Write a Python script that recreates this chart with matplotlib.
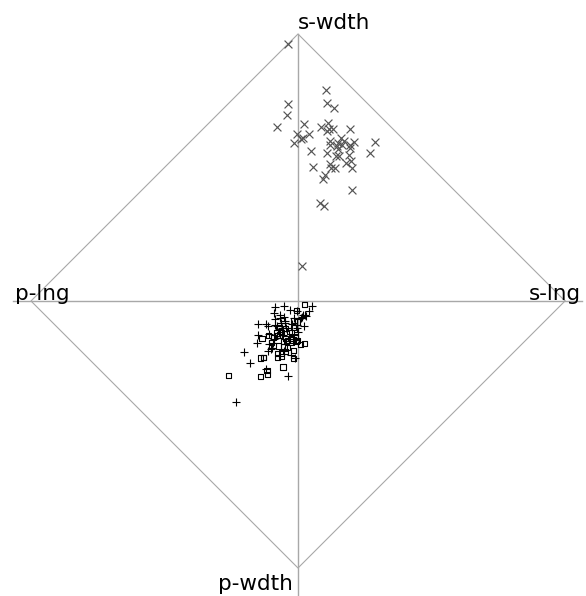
import numpy as np
import matplotlib.pyplot as plt

# iris measurements: sepal length, sepal width, petal length, petal width
setosa = [
    [5.1, 3.5, 1.4, 0.2], [4.9, 3.0, 1.4, 0.2], [4.7, 3.2, 1.3, 0.2], [4.6, 3.1, 1.5, 0.2],
    [5.0, 3.6, 1.4, 0.2], [5.4, 3.9, 1.7, 0.4], [4.6, 3.4, 1.4, 0.3], [5.0, 3.4, 1.5, 0.2],
    [4.4, 2.9, 1.4, 0.2], [4.9, 3.1, 1.5, 0.1], [5.4, 3.7, 1.5, 0.2], [4.8, 3.4, 1.6, 0.2],
    [4.8, 3.0, 1.4, 0.1], [4.3, 3.0, 1.1, 0.1], [5.8, 4.0, 1.2, 0.2], [5.7, 4.4, 1.5, 0.4],
    [5.4, 3.9, 1.3, 0.4], [5.1, 3.5, 1.4, 0.3], [5.7, 3.8, 1.7, 0.3], [5.1, 3.8, 1.5, 0.3],
    [5.4, 3.4, 1.7, 0.2], [5.1, 3.7, 1.5, 0.4], [4.6, 3.6, 1.0, 0.2], [5.1, 3.3, 1.7, 0.5],
    [4.8, 3.4, 1.9, 0.2], [5.0, 3.0, 1.6, 0.2], [5.0, 3.4, 1.6, 0.4], [5.2, 3.5, 1.5, 0.2],
    [5.2, 3.4, 1.4, 0.2], [4.7, 3.2, 1.6, 0.2], [4.8, 3.1, 1.6, 0.2], [5.4, 3.4, 1.5, 0.4],
    [5.2, 4.1, 1.5, 0.1], [5.5, 4.2, 1.4, 0.2], [4.9, 3.1, 1.5, 0.2], [5.0, 3.2, 1.2, 0.2],
    [5.5, 3.5, 1.3, 0.2], [4.9, 3.6, 1.4, 0.1], [4.4, 3.0, 1.3, 0.2], [5.1, 3.4, 1.5, 0.2],
    [5.0, 3.5, 1.3, 0.3], [4.5, 2.3, 1.3, 0.3], [4.4, 3.2, 1.3, 0.2], [5.0, 3.5, 1.6, 0.6],
    [5.1, 3.8, 1.9, 0.4], [4.8, 3.0, 1.4, 0.3], [5.1, 3.8, 1.6, 0.2], [4.6, 3.2, 1.4, 0.2],
    [5.3, 3.7, 1.5, 0.2], [5.0, 3.3, 1.4, 0.2],
]
versicolor = [
    [7.0, 3.2, 4.7, 1.4], [6.4, 3.2, 4.5, 1.5], [6.9, 3.1, 4.9, 1.5], [5.5, 2.3, 4.0, 1.3],
    [6.5, 2.8, 4.6, 1.5], [5.7, 2.8, 4.5, 1.3], [6.3, 3.3, 4.7, 1.6], [4.9, 2.4, 3.3, 1.0],
    [6.6, 2.9, 4.6, 1.3], [5.2, 2.7, 3.9, 1.4], [5.0, 2.0, 3.5, 1.0], [5.9, 3.0, 4.2, 1.5],
    [6.0, 2.2, 4.0, 1.0], [6.1, 2.9, 4.7, 1.4], [5.6, 2.9, 3.6, 1.3], [6.7, 3.1, 4.4, 1.4],
    [5.6, 3.0, 4.5, 1.5], [5.8, 2.7, 4.1, 1.0], [6.2, 2.2, 4.5, 1.5], [5.6, 2.5, 3.9, 1.1],
    [5.9, 3.2, 4.8, 1.8], [6.1, 2.8, 4.0, 1.3], [6.3, 2.5, 4.9, 1.5], [6.1, 2.8, 4.7, 1.2],
    [6.4, 2.9, 4.3, 1.3], [6.6, 3.0, 4.4, 1.4], [6.8, 2.8, 4.8, 1.4], [6.7, 3.0, 5.0, 1.7],
    [6.0, 2.9, 4.5, 1.5], [5.7, 2.6, 3.5, 1.0], [5.5, 2.4, 3.8, 1.1], [5.5, 2.4, 3.7, 1.0],
    [5.8, 2.7, 3.9, 1.2], [6.0, 2.7, 5.1, 1.6], [5.4, 3.0, 4.5, 1.5], [6.0, 3.4, 4.5, 1.6],
    [6.7, 3.1, 4.7, 1.5], [6.3, 2.3, 4.4, 1.3], [5.6, 3.0, 4.1, 1.3], [5.5, 2.5, 4.0, 1.3],
    [5.5, 2.6, 4.4, 1.2], [6.1, 3.0, 4.6, 1.4], [5.8, 2.6, 4.0, 1.2], [5.0, 2.3, 3.3, 1.0],
    [5.6, 2.7, 4.2, 1.3], [5.7, 3.0, 4.2, 1.2], [5.7, 2.9, 4.2, 1.3], [6.2, 2.9, 4.3, 1.3],
    [5.1, 2.5, 3.0, 1.1], [5.7, 2.8, 4.1, 1.3],
]
virginica = [
    [6.3, 3.3, 6.0, 2.5], [5.8, 2.7, 5.1, 1.9], [7.1, 3.0, 5.9, 2.1], [6.3, 2.9, 5.6, 1.8],
    [6.5, 3.0, 5.8, 2.2], [7.6, 3.0, 6.6, 2.1], [4.9, 2.5, 4.5, 1.7], [7.3, 2.9, 6.3, 1.8],
    [6.7, 2.5, 5.8, 1.8], [7.2, 3.6, 6.1, 2.5], [6.5, 3.2, 5.1, 2.0], [6.4, 2.7, 5.3, 1.9],
    [6.8, 3.0, 5.5, 2.1], [5.7, 2.5, 5.0, 2.0], [5.8, 2.8, 5.1, 2.4], [6.4, 3.2, 5.3, 2.3],
    [6.5, 3.0, 5.5, 1.8], [7.7, 3.8, 6.7, 2.2], [7.7, 2.6, 6.9, 2.3], [6.0, 2.2, 5.0, 1.5],
    [6.9, 3.2, 5.7, 2.3], [5.6, 2.8, 4.9, 2.0], [7.7, 2.8, 6.7, 2.0], [6.3, 2.7, 4.9, 1.8],
    [6.7, 3.3, 5.7, 2.1], [7.2, 3.2, 6.0, 1.8], [6.2, 2.8, 4.8, 1.8], [6.1, 3.0, 4.9, 1.8],
    [6.4, 2.8, 5.6, 2.1], [7.2, 3.0, 5.8, 1.6], [7.4, 2.8, 6.1, 1.9], [7.9, 3.8, 6.4, 2.0],
    [6.4, 2.8, 5.6, 2.2], [6.3, 2.8, 5.1, 1.5], [6.1, 2.6, 5.6, 1.4], [7.7, 3.0, 6.1, 2.3],
    [6.3, 3.4, 5.6, 2.4], [6.4, 3.1, 5.5, 1.8], [6.0, 3.0, 4.8, 1.8], [6.9, 3.1, 5.4, 2.1],
    [6.7, 3.1, 5.6, 2.4], [6.9, 3.1, 5.1, 2.3], [5.8, 2.7, 5.1, 1.9], [6.8, 3.2, 5.9, 2.3],
    [6.7, 3.3, 5.7, 2.5], [6.7, 3.0, 5.2, 2.3], [6.3, 2.5, 5.0, 1.9], [6.5, 3.0, 5.2, 2.0],
    [6.2, 3.4, 5.4, 2.3], [5.9, 3.0, 5.1, 1.8],
]

# anchor order: s-lng (right), s-wdth (top), p-lng (left), p-wdth (bottom)
anchor_labels = ['s-lng', 's-wdth', 'p-lng', 'p-wdth']

data = np.array(setosa + versicolor + virginica)
lo, hi = data.min(axis=0), data.max(axis=0)
angles = np.arange(4) * np.pi / 2
anchors = np.column_stack([np.cos(angles), np.sin(angles)])


def radviz(rows):
    norm = (np.array(rows) - lo) / (hi - lo)
    return norm @ anchors / norm.sum(axis=1, keepdims=True)


# image is 586x596 px, centre of the circle at (298, 301), radius 267 px
R = 267.0
cx, cy = 298.0, 301.0
fig = plt.figure(figsize=(5.86, 5.96), dpi=100)
ax = fig.add_axes([0, 0, 1, 1])
ax.set_xlim(-cx / R, (586 - cx) / R)
ax.set_ylim(-(596 - cy) / R, cy / R)
ax.axis('off')

grey = '#a8a8a8'
# outer diamond joining the anchors
ring = np.vstack([anchors, anchors[:1]])
ax.plot(ring[:, 0], ring[:, 1], color=grey, lw=0.8, zorder=1)
# axis lines through the centre
ax.plot([-(cx - 13) / R, (582 - cx) / R], [0, 0], color=grey, lw=1.0, zorder=1)
ax.plot([0, 0], [1.0, -(596 - cy) / R], color=grey, lw=1.0, zorder=1)

fs = 15.5
ax.text(anchors[0, 0] + 0.058, 0.005, anchor_labels[0], ha='right', va='baseline', fontsize=fs)
ax.text(0.0, 1.017, anchor_labels[1], ha='left', va='baseline', fontsize=fs)
ax.text(-1.06, 0.005, anchor_labels[2], ha='left', va='baseline', fontsize=fs)
ax.text(-0.018, -1.084, anchor_labels[3], ha='right', va='baseline', fontsize=fs)

p1, p2, p3 = radviz(setosa), radviz(versicolor), radviz(virginica)
ax.scatter(p1[:, 0], p1[:, 1], marker='x', s=32, c='#555555', linewidths=0.85, zorder=3)
ax.scatter(p2[:, 0], p2[:, 1], marker='+', s=38, c='black', linewidths=0.8, zorder=3)
ax.scatter(p3[:, 0], p3[:, 1], marker='s', s=14, facecolors='none', edgecolors='black',
           linewidths=0.8, zorder=3)

fig.savefig('out.png', dpi=100)
